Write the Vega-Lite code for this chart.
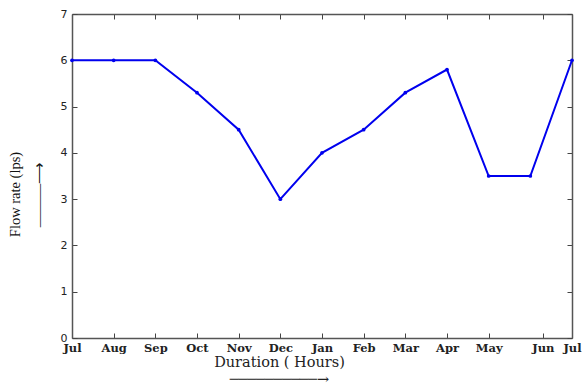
{
  "$schema": "https://vega.github.io/schema/vega-lite/v6.json",
  "autosize": {"type": "none"},
  "width": 500,
  "height": 324,
  "padding": {"left": 72, "top": 14, "right": 12, "bottom": 47},
  "background": "white",
  "config": {"view": {"stroke": null}},
  "data": {"values": [
    {"idx": 0, "month": "Jul", "flow": 6},
    {"idx": 1, "month": "Aug", "flow": 6},
    {"idx": 2, "month": "Sep", "flow": 6},
    {"idx": 3, "month": "Oct", "flow": 5.3},
    {"idx": 4, "month": "Nov", "flow": 4.5},
    {"idx": 5, "month": "Dec", "flow": 3},
    {"idx": 6, "month": "Jan", "flow": 4},
    {"idx": 7, "month": "Feb", "flow": 4.5},
    {"idx": 8, "month": "Mar", "flow": 5.3},
    {"idx": 9, "month": "Apr", "flow": 5.8},
    {"idx": 10, "month": "May", "flow": 3.5},
    {"idx": 11, "month": "Jun", "flow": 3.5},
    {"idx": 12, "month": "Jul", "flow": 6}
  ]},
  "layer": [
    {
      "mark": {"type": "line", "color": "#0000ee", "strokeWidth": 2, "point": {"filled": true, "size": 14, "color": "#0000ee"}},
      "encoding": {
        "x": {
          "field": "idx", "type": "quantitative",
          "scale": {"domain": [0, 12], "nice": false, "zero": false},
          "axis": {
            "orient": "bottom",
            "values": [0,1,2,3,4,5,6,7,8,9,10,11.3,12],
            "labelExpr": "datum.value == 11.3 ? 'Jun' : ['Jul','Aug','Sep','Oct','Nov','Dec','Jan','Feb','Mar','Apr','May','Jun','Jul'][datum.value]",
            "grid": false,
            "tickSize": -5,
            "tickColor": "#444",
            "domainColor": "#555",
            "domainWidth": 1.5,
            "labelFont": "DejaVu Serif",
            "labelFontWeight": "bold",
            "labelFontSize": 11.5,
            "labelColor": "#222",
            "labelPadding": 9,
            "labelFlush": false,
            "labelOverlap": false,
            "title": ["Duration ( Hours)", "──────────→"],
            "titleFont": "DejaVu Serif",
            "titleFontWeight": "normal",
            "titleFontSize": 14.5,
            "titleColor": "#222",
            "titleLineHeight": 17,
            "titlePadding": 2,
            "titleX": 207
          }
        },
        "y": {
          "field": "flow", "type": "quantitative",
          "scale": {"domain": [0, 7], "nice": false},
          "axis": {
            "orient": "left",
            "values": [0,1,2,3,4,5,6,7],
            "grid": false,
            "tickSize": -5,
            "tickColor": "#444",
            "domainColor": "#555",
            "domainWidth": 1.5,
            "labelFont": "DejaVu Sans",
            "labelFontSize": 11,
            "labelColor": "#222",
            "labelPadding": 10,
            "title": ["Flow rate (lps)", "\u00a0\u00a0\u00a0\u00a0\u00a0———⟶"],
            "titleFont": "Liberation Serif",
            "titleFontWeight": "normal",
            "titleFontSize": 14.5,
            "titleColor": "#111",
            "titleLineHeight": 24,
            "titleY": 180,
            "titleX": -50
          }
        }
      }
    },
    {
      "mark": {"type": "line", "opacity": 0},
      "encoding": {
        "x": {
          "field": "idx", "type": "quantitative",
          "axis": {
            "orient": "top",
            "values": [0,1,2,3,4,5,6,7,8,9,10,11.3,12],
            "labels": false,
            "grid": false,
            "tickSize": -5,
            "tickColor": "#444",
            "domainColor": "#555",
            "domainWidth": 1.5,
            "title": null
          }
        },
        "y": {
          "field": "flow", "type": "quantitative",
          "axis": {
            "orient": "right",
            "values": [0,1,2,3,4,5,6,7],
            "labels": false,
            "grid": false,
            "tickSize": -5,
            "tickColor": "#444",
            "domainColor": "#555",
            "domainWidth": 1.5,
            "title": null
          }
        }
      }
    }
  ],
  "resolve": {"axis": {"x": "independent", "y": "independent"}}
}
